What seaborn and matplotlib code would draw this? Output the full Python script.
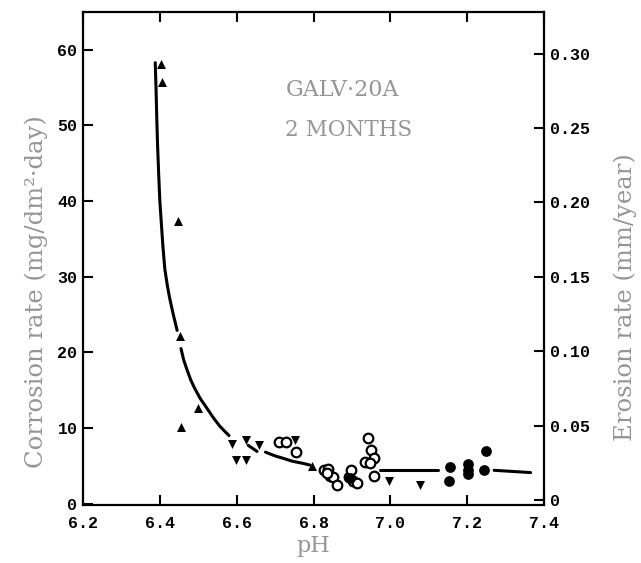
import numpy as np
import pandas as pd
import seaborn as sns
from matplotlib import pyplot as plt

# ---- data ----
# up-pointing triangles
tri_up_ph = [6.403, 6.406, 6.447, 6.452, 6.455, 6.499, 6.796]
tri_up_rate = [58.1, 55.8, 37.4, 22.1, 10.1, 12.6, 5.0]

# down-pointing triangles
tri_dn_ph = [6.587, 6.597, 6.624, 6.623, 6.659, 6.752, 6.997, 7.076]
tri_dn_rate = [7.9, 5.7, 5.7, 8.4, 7.7, 8.4, 3.0, 2.4]

# open circles
open_ph = [6.711, 6.728, 6.755, 6.828, 6.838, 6.843, 6.852, 6.860, 6.835,
           6.893, 6.897, 6.903, 6.912, 6.942, 6.949, 6.958, 6.933, 6.946, 6.958]
open_rate = [8.2, 8.1, 6.8, 4.5, 4.6, 3.7, 3.5, 2.5, 4.0,
             3.5, 4.4, 3.0, 2.7, 8.7, 7.1, 6.0, 5.5, 5.3, 3.7]

# filled circles
full_ph = [6.895, 7.155, 7.153, 7.201, 7.201, 7.201, 7.248, 7.244]
full_rate = [3.4, 4.9, 3.0, 5.2, 4.5, 3.9, 7.0, 4.4]

# fitted curve (drawn in pieces, broken where markers sit on it)
curve_ph = [6.388, 6.390, 6.392, 6.394, 6.397, 6.400, 6.404, 6.408, 6.413,
            6.419, 6.425, 6.435, 6.445,
            6.455, 6.462, 6.470, 6.480, 6.490, 6.505, 6.524, 6.540, 6.555,
            6.568, 6.580,
            6.630, 6.653,
            6.675, 6.700, 6.720, 6.745, 6.774, 6.790,
            6.972, 7.123,
            7.270, 7.365]
curve_rate = [58.3, 55.0, 51.0, 47.5, 43.5, 40.0, 37.0, 34.0, 31.0,
              29.0, 27.3, 25.0, 22.9,
              20.5, 19.0, 17.8, 16.4, 15.3, 13.9, 12.5, 11.3, 10.3,
              9.6, 9.0,
              7.7, 6.9,
              6.8, 6.3, 6.0, 5.6, 5.3, 5.1,
              4.5, 4.5,
              4.4, 4.1]
curve_piece = [1] * 13 + [2] * 11 + [3] * 2 + [4] * 6 + [5] * 2 + [6] * 2

x_ticks = [6.2, 6.4, 6.6, 6.8, 7.0, 7.2, 7.4]
left_ticks = [0, 10, 20, 30, 40, 50, 60]
right_ticks = [0, 0.05, 0.10, 0.15, 0.20, 0.25, 0.30]
right_labels = ["0", "0.05", "0.10", "0.15", "0.20", "0.25", "0.30"]

curve_df = pd.DataFrame({"ph": curve_ph, "rate": curve_rate, "piece": curve_piece})

sns.set_style("white")
plt.rcParams['font.family'] = ['DejaVu Serif']

fig = plt.figure(figsize=(6.41, 5.63), dpi=100)
ax = fig.add_axes([0.1295, 0.103, 0.7192, 0.8757])

sns.lineplot(data=curve_df, x="ph", y="rate", units="piece", estimator=None,
             sort=False, color="black", linewidth=2.2, ax=ax)

sns.scatterplot(x=tri_up_ph, y=tri_up_rate, marker="^", s=42, color="black",
                edgecolor="black", linewidth=0, ax=ax)
sns.scatterplot(x=tri_dn_ph, y=tri_dn_rate, marker="v", s=42, color="black",
                edgecolor="black", linewidth=0, ax=ax)
sns.scatterplot(x=open_ph, y=open_rate, marker="o", s=48, facecolor="white",
                edgecolor="black", linewidth=1.6, ax=ax)
sns.scatterplot(x=full_ph, y=full_rate, marker="o", s=60, color="black",
                edgecolor="black", linewidth=0, ax=ax)

ax.set_xlim(6.2, 7.4)
ax.set_ylim(-0.19, 65.0)

tick_font = dict(family=['Liberation Mono', 'DejaVu Sans Mono'], weight='bold', size=12)

ax.set_xticks(x_ticks)
ax.set_xticklabels([f"{v:.1f}" for v in x_ticks], **tick_font)
ax.set_yticks(left_ticks)
ax.set_yticklabels([str(v) for v in left_ticks], **tick_font)
ax.tick_params(axis="both", direction="in", length=7, width=1.5, colors="black",
               top=True, bottom=True, left=True, right=False, pad=4)
ax.tick_params(axis="x", pad=8)

for s in ax.spines.values():
    s.set_visible(True)
    s.set_color("black")
    s.set_linewidth(1.6)

ax2 = ax.twinx()
ax2.set_ylim(-0.0034, 0.328)
ax2.set_yticks(right_ticks)
ax2.set_yticklabels(right_labels, **tick_font)
ax2.tick_params(axis="y", direction="in", length=7, width=1.5, colors="black", pad=4)
for s in ax2.spines.values():
    s.set_visible(False)

label_color = "#959595"
ax.set_xlabel("pH", fontsize=16, color=label_color, labelpad=3)
ax.set_ylabel("Corrosion rate (mg/dm²·day)", fontsize=17.5, color=label_color,
              labelpad=7, y=0.432)
ax2.set_ylabel("Erosion rate (mm/year)", fontsize=17.5, color=label_color,
               labelpad=17, y=0.422)

ax.text(6.727, 54.7, "GALV·20A", fontsize=16, color=label_color, va="center", ha="left")
ax.text(6.727, 49.4, "2 MONTHS", fontsize=15.5, color=label_color, va="center", ha="left")

fig.savefig("out.png", dpi=100)
